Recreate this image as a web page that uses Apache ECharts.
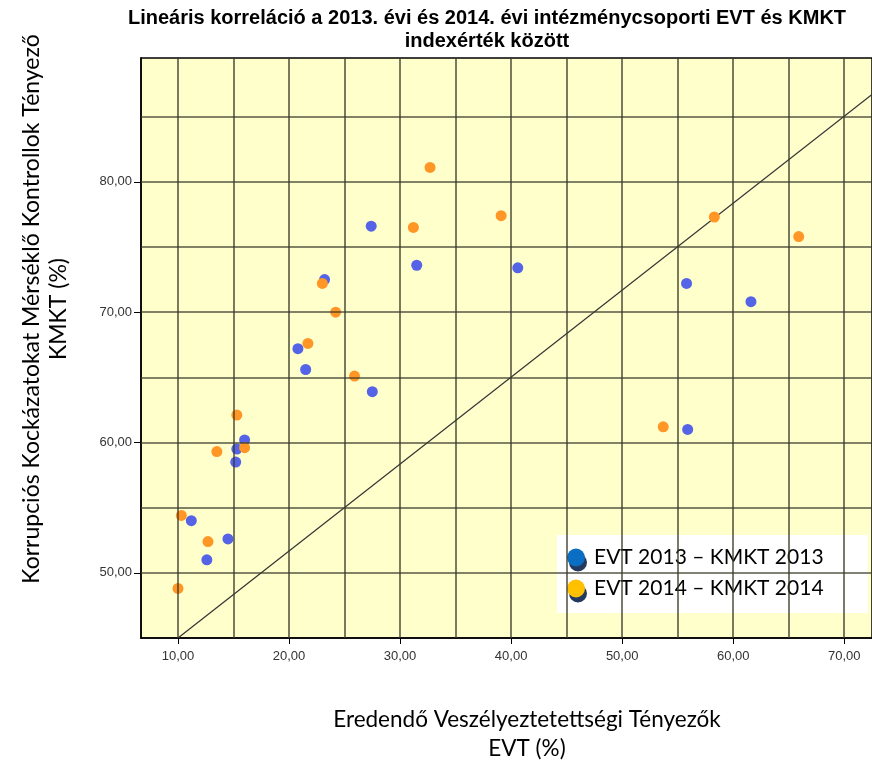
<!DOCTYPE html>
<html>
<head>
<meta charset="utf-8">
<script src="https://cdn.jsdelivr.net/npm/echarts@6/dist/echarts.min.js"></script>
<style>
  html, body { margin: 0; padding: 0; background: #fff; }
  #chart { width: 872px; height: 762px; }
</style>
</head>
<body>
<div id="chart"></div>
<script>
// EVT / KMKT pontok (x = EVT %, y = KMKT %)
var evt2013 = [27.4, 23.2, 31.5, 40.6, 55.8, 61.6, 20.8, 21.5, 27.5, 16.0, 15.3, 15.2, 55.9, 11.2, 14.5, 12.6];
var kmkt2013 = [76.6, 72.5, 73.6, 73.4, 72.2, 70.8, 67.2, 65.6, 63.9, 60.2, 59.5, 58.5, 61.0, 54.0, 52.6, 51.0];
var evt2014 = [32.7, 31.2, 39.1, 58.3, 65.9, 23.0, 24.2, 21.7, 25.9, 15.3, 16.0, 13.5, 53.7, 10.3, 12.7, 10.0];
var kmkt2014 = [81.1, 76.5, 77.4, 77.3, 75.8, 72.2, 70.0, 67.6, 65.1, 62.1, 59.6, 59.3, 61.2, 54.4, 52.4, 48.8];
var fitLine = [[10, 45], [72.5, 86.7]];

var xTicks = [10, 20, 30, 40, 50, 60, 70];
var yTicks = [50, 60, 70, 80];
var xGrid = [10, 15, 20, 25, 30, 35, 40, 45, 50, 55, 60, 65, 70];
var yGrid = [50, 55, 60, 65, 70, 75, 80, 85];

var name2013 = 'EVT 2013 – KMKT 2013';
var name2014 = 'EVT 2014 – KMKT 2014';

function pairs(xs, ys) {
  return xs.map(function (x, i) { return [x, ys[i]]; });
}
function fmt(v) {
  return v.toFixed(2).replace('.', ',');
}

var gridLines = xGrid.map(function (v) { return { xAxis: v }; })
  .concat(yGrid.map(function (v) { return { yAxis: v }; }));

var myChart = echarts.init(document.getElementById('chart'));
myChart.setOption({
  animation: false,
  legend: {
    orient: 'vertical',
    left: 557,
    top: 535,
    backgroundColor: '#fff',
    padding: [12, 44, 14, 10],
    itemGap: 10,
    itemWidth: 18,
    itemHeight: 18,
    textStyle: { fontFamily: 'Lato', fontSize: 21, color: '#000', padding: [0, 0, 0, 4] },
    data: [
      { name: name2013, icon: 'circle',
        itemStyle: { color: '#0A6FC2', shadowColor: '#23395F', shadowOffsetX: 2, shadowOffsetY: 5, shadowBlur: 0 } },
      { name: name2014, icon: 'circle',
        itemStyle: { color: '#FFC000', shadowColor: '#23395F', shadowOffsetX: 2, shadowOffsetY: 5, shadowBlur: 0 } }
    ]
  },
  grid: {
    left: 141, top: 58, right: 0, bottom: 124,
    show: true,
    backgroundColor: '#FFFFCC',
    borderColor: '#000',
    borderWidth: 1.5
  },
  xAxis: {
    type: 'value',
    min: 6.67,
    max: 72.5,
    splitLine: { show: false },
    axisLine: { show: true, onZero: false, lineStyle: { color: '#000', width: 1.5 } },
    axisTick: { show: true, length: 6, customValues: xTicks, lineStyle: { color: '#000' } },
    axisLabel: { customValues: xTicks, formatter: fmt, color: '#333', fontFamily: 'Liberation Sans', fontSize: 13, margin: 12 }
  },
  yAxis: {
    type: 'value',
    min: 45,
    max: 89.5,
    splitLine: { show: false },
    axisLine: { show: true, onZero: false, lineStyle: { color: '#000', width: 1.5 } },
    axisTick: { show: true, length: 7, customValues: yTicks, lineStyle: { color: '#000' } },
    axisLabel: { customValues: yTicks, formatter: fmt, color: '#333', fontFamily: 'Liberation Sans', fontSize: 13, margin: 9 }
  },
  graphic: [
    { type: 'text', x: 487, y: 7,
      style: { text: 'Lineáris korreláció a 2013. évi és 2014. évi intézménycsoporti EVT és KMKT\nindexérték között',
        align: 'center', fill: '#000', font: 'bold 20px "Liberation Sans"', lineHeight: 23 } },
    { type: 'text', x: 527, y: 705,
      style: { text: 'Eredendő Veszélyeztetettségi Tényezők\nEVT (%)',
        align: 'center', fill: '#000', font: '22.5px Lato', lineHeight: 29 } },
    { type: 'text', x: 45, y: 309, rotation: Math.PI / 2,
      style: { text: 'Korrupciós Kockázatokat Mérséklő Kontrollok Tényező\nKMKT (%)',
        align: 'center', verticalAlign: 'middle', fill: '#000', font: '23px Lato', lineHeight: 27 } }
  ],
  series: [
    {
      type: 'line',
      data: [],
      silent: true,
      z: 1,
      markLine: {
        silent: true,
        symbol: 'none',
        label: { show: false },
        lineStyle: { color: '#3a3a2a', width: 1.6, type: 'solid', opacity: 0.85 },
        data: gridLines
      }
    },
    {
      type: 'line',
      data: fitLine,
      showSymbol: false,
      silent: true,
      z: 2,
      lineStyle: { color: '#333', width: 1.2 }
    },
    {
      name: name2013,
      type: 'scatter',
      data: pairs(evt2013, kmkt2013),
      symbolSize: 11,
      z: 3,
      itemStyle: { color: '#5563E6', opacity: 1 }
    },
    {
      name: name2014,
      type: 'scatter',
      data: pairs(evt2014, kmkt2014),
      symbolSize: 11,
      z: 3,
      itemStyle: { color: '#FF9626', opacity: 1 }
    }
  ]
});
</script>
</body>
</html>
